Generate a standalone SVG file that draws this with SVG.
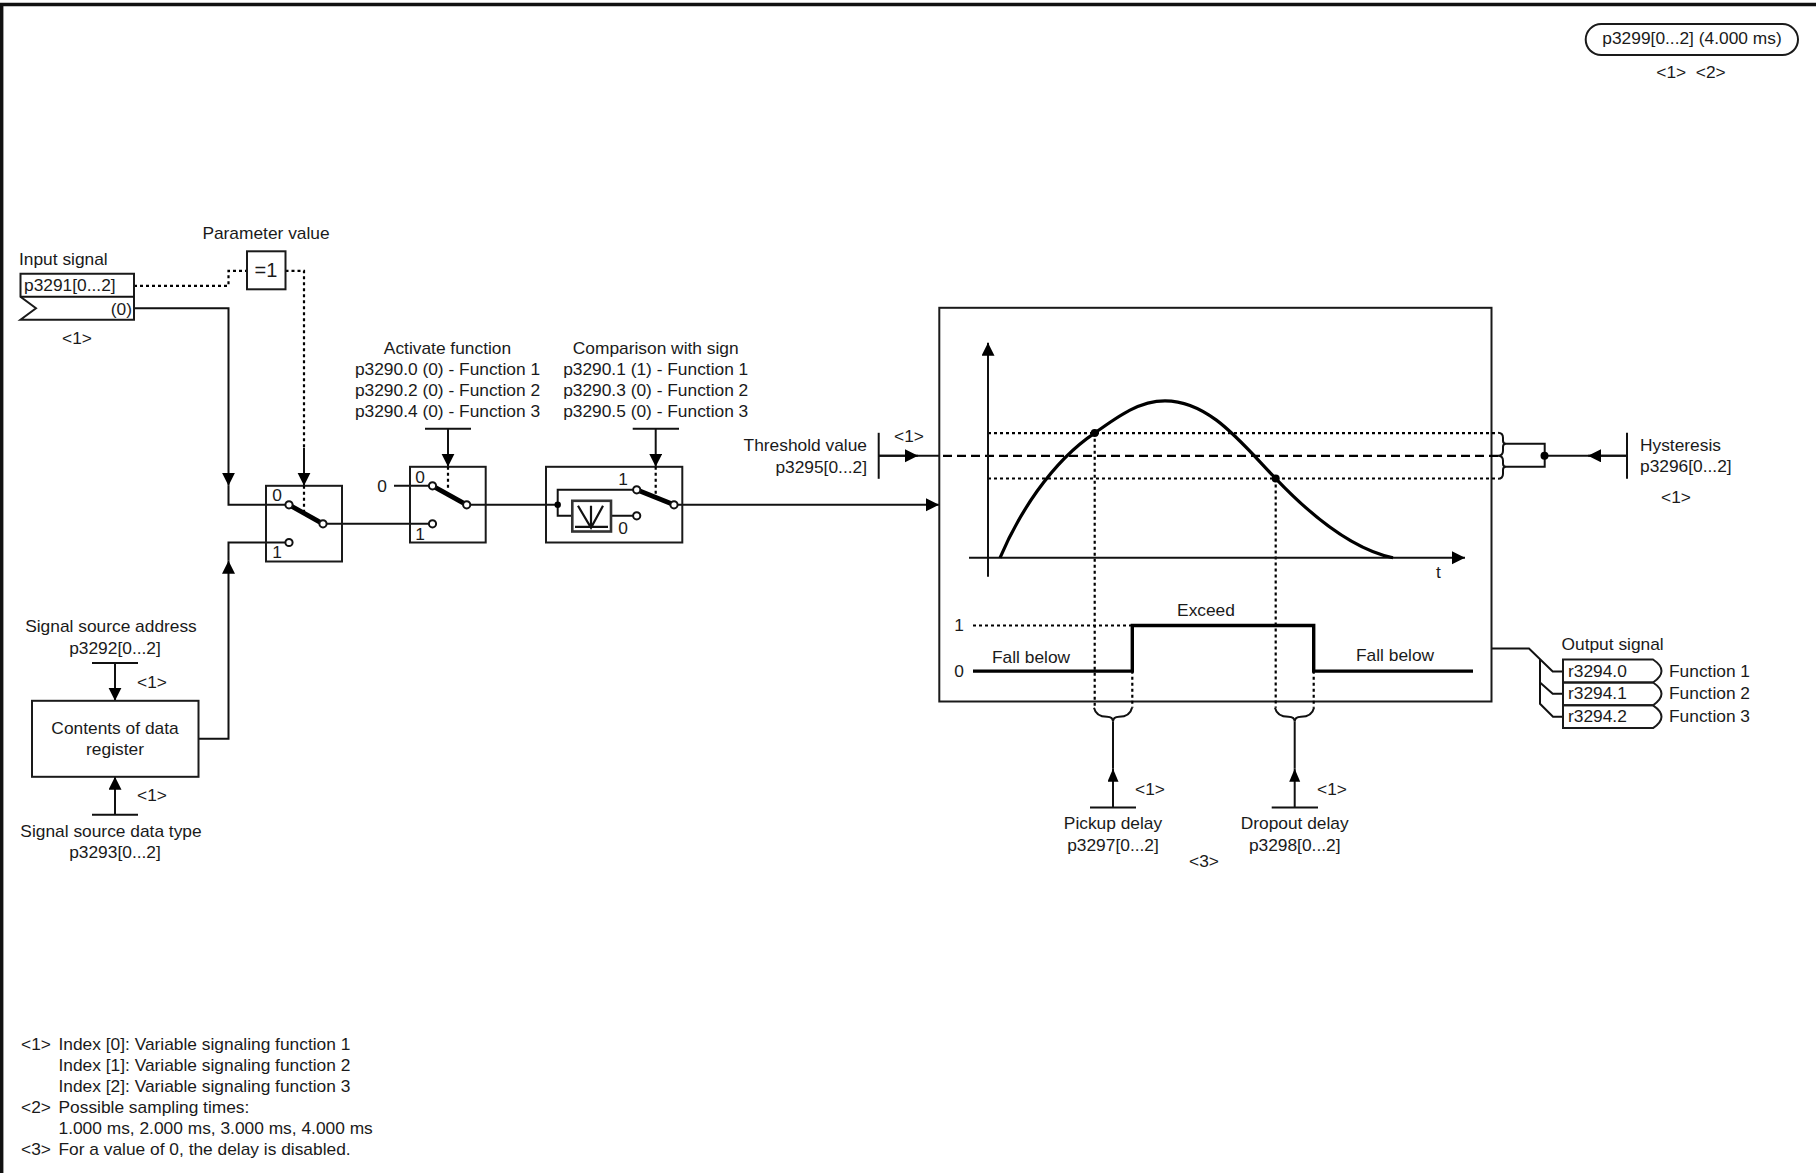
<svg xmlns="http://www.w3.org/2000/svg" width="1816" height="1173" viewBox="0 0 1816 1173">
<style>
text{font-family:"Liberation Sans",Arial,sans-serif;font-size:17.35px;fill:#1a1a1a}
.m{text-anchor:middle}.e{text-anchor:end}
.b{fill:none;stroke:#1a1a1a;stroke-width:2}
.l{fill:none;stroke:#111;stroke-width:2}
.t{fill:none;stroke:#000;stroke-width:4.8}
.dot{fill:none;stroke:#000;stroke-width:2.2;stroke-dasharray:3 3}
.dash{fill:none;stroke:#000;stroke-width:2.2;stroke-dasharray:9 5}
.c{fill:#fff;stroke:#111;stroke-width:2}
.j{fill:#000}
.a{marker-end:url(#arrow)}
.s{marker-end:url(#arrowS)}
</style>
<defs>
<marker id="arrow" markerUnits="userSpaceOnUse" markerWidth="14" markerHeight="14" refX="13" refY="6.5" orient="auto"><path d="M0 0L13 6.5L0 13z" fill="#000"/></marker>
<marker id="arrowS" markerUnits="userSpaceOnUse" markerWidth="14" markerHeight="12" refX="13" refY="5.5" orient="auto"><path d="M0 0L13 5.5L0 11z" fill="#000"/></marker>
</defs>
<rect width="1816" height="1173" fill="#fff"/>
<g transform="translate(0 0.8)">
<path id="frame" d="M1.7 1173V3.7H1816" fill="none" stroke="#111" stroke-width="3.4"/>

<g id="connectors">
<path class="dot" d="M134 285H228.5V270H247"/>
<path class="dot" d="M285.5 270H304V447"/>
<path class="l a" d="M134 307.5H228.5V485"/>
<path class="l" d="M228.5 485V504H289"/>
<path class="l a" d="M198.5 738H228.5V560"/>
<path class="l" d="M228.5 560V541.7H289"/>
<path class="l a" d="M304 447V485"/>
<path class="l" d="M323 523H432.5"/>
<path class="l" d="M394 485H432.5"/>
<path class="l" d="M467 504H558"/>
<path class="l a" d="M674 504H939"/>
<path class="l" d="M425 428H471M632.7 428H679"/>
<path class="l a" d="M448 428V466"/>
<path class="l a" d="M655.7 428V466"/>
<path class="l" d="M92 662.3H138M92 814H138"/>
<path class="l a" d="M115 662.3V700"/>
<path class="l a" d="M115 814V776"/>
<path class="l" d="M878.7 432V478"/>
<path class="l" d="M878.7 455H939"/>
<path class="l a" d="M878.7 455H918"/>
<path class="l" d="M1627 432V478M1627 455H1545"/>
<path class="l a" d="M1627 455H1588"/>
<path class="l" d="M1498 432Q1503 432 1503 437V440Q1503 443 1506 443Q1503 443 1503 446V450Q1503 455 1498 455Q1503 455 1503 460V463Q1503 466 1506 466Q1503 466 1503 469V473Q1503 478 1498 478"/>
<path class="l" d="M1506 443H1544.7V466H1506"/>
<circle class="j" cx="1544.5" cy="455" r="4"/>
<path class="l" d="M1094 707Q1096 716 1107 716Q1113 716 1113 721Q1113 716 1119 716Q1130 716 1132 707"/>
<path class="l" d="M1275 707Q1277 716 1288.5 716Q1294.7 716 1294.7 721Q1294.7 716 1301 716Q1312 716 1314 707"/>
<path class="l s" d="M1113 806.7V768"/>
<path class="l" d="M1113 768V721M1090 806.7H1136"/>
<path class="l s" d="M1294.7 806.7V768"/>
<path class="l" d="M1294.7 768V721M1271.7 806.7H1318"/>
<path class="l" d="M1491.5 647.7H1529L1552.7 670.7H1563M1540 658V703L1553 716H1563M1540 681.7L1552.7 693H1563"/>
</g>

<g id="node-period">
<rect class="b" x="1585.7" y="23.3" width="212.3" height="31" rx="15.5"/>
<text class="m" x="1692" y="43">p3299[0...2] (4.000 ms)</text>
<text class="m" x="1691" y="77" xml:space="preserve">&lt;1&gt;  &lt;2&gt;</text>
</g>

<g id="node-input">
<text x="19" y="264">Input signal</text>
<path class="b" d="M20.5 273H134V319H20.5L36 307.5L20.5 296Z"/>
<path class="l" d="M20.5 296H134"/>
<text x="24" y="290">p3291[0...2]</text>
<text class="e" x="132" y="314">(0)</text>
<text class="m" x="77" y="343">&lt;1&gt;</text>
</g>

<g id="node-param">
<text class="m" x="266" y="238">Parameter value</text>
<rect class="b" x="247" y="250.5" width="38.5" height="38"/>
<text class="m" x="266" y="276.5" style="font-size:20px">=1</text>
</g>

<g id="node-switch1">
<rect class="b" x="266" y="485" width="76" height="75.7"/>
<path class="dot" d="M304 485V513"/>
<path class="t" d="M289 504L323 523"/>
<circle class="c" cx="289" cy="504" r="3.6"/><circle class="c" cx="323" cy="523" r="3.6"/><circle class="c" cx="289" cy="541.7" r="3.6"/>
<text class="m" x="277" y="500">0</text><text class="m" x="277" y="557">1</text>
</g>

<g id="node-switch2">
<rect class="b" x="410" y="466" width="75.7" height="75.7"/>
<path class="dot" d="M448 466V490"/>
<path class="t" d="M432.5 485L466.7 504"/>
<circle class="c" cx="432.5" cy="485" r="3.6"/><circle class="c" cx="466.7" cy="504" r="3.6"/><circle class="c" cx="432.5" cy="523" r="3.6"/>
<text class="m" x="420" y="482">0</text><text class="m" x="420" y="539">1</text>
<text class="m" x="382" y="491">0</text>
</g>

<g id="node-switch3">
<rect class="b" x="546" y="466" width="136.3" height="75.7"/>
<path class="dot" d="M655.7 466V493"/>
<path class="l" d="M557.7 504V489H636.7M557.7 504V515H572.3M611 515H636.7"/>
<circle class="j" cx="557.7" cy="504" r="3.2"/>
<rect x="572.3" y="500" width="38.7" height="30.7" fill="#fff" stroke="#333" stroke-width="2.6"/>
<path d="M591 505V527M578 505L591 527L603 505M575 526H608" fill="none" stroke="#111" stroke-width="2.2"/>
<path class="t" d="M636.7 489L674 504"/>
<circle class="c" cx="636.7" cy="489" r="3.6"/><circle class="c" cx="636.7" cy="515" r="3.6"/><circle class="c" cx="674" cy="504" r="3.6"/>
<text class="m" x="623" y="484">1</text><text class="m" x="623" y="533">0</text>
</g>

<g id="node-activate">
<text class="m" x="447.5" y="353">Activate function</text>
<text class="m" x="447.5" y="374">p3290.0 (0) - Function 1</text>
<text class="m" x="447.5" y="395">p3290.2 (0) - Function 2</text>
<text class="m" x="447.5" y="416">p3290.4 (0) - Function 3</text>
</g>

<g id="node-compare">
<text class="m" x="655.7" y="353">Comparison with sign</text>
<text class="m" x="655.7" y="374">p3290.1 (1) - Function 1</text>
<text class="m" x="655.7" y="395">p3290.3 (0) - Function 2</text>
<text class="m" x="655.7" y="416">p3290.5 (0) - Function 3</text>
</g>

<g id="node-register">
<text class="m" x="111" y="631">Signal source address</text>
<text class="m" x="115" y="653">p3292[0...2]</text>
<text class="m" x="152" y="687">&lt;1&gt;</text>
<rect class="b" x="32" y="700" width="166.5" height="76"/>
<text class="m" x="115" y="733">Contents of data</text>
<text class="m" x="115" y="754">register</text>
<text class="m" x="152" y="800">&lt;1&gt;</text>
<text class="m" x="111" y="836">Signal source data type</text>
<text class="m" x="115" y="857">p3293[0...2]</text>
</g>

<g id="node-threshold">
<text class="e" x="867" y="450">Threshold value</text>
<text class="e" x="867" y="472">p3295[0...2]</text>
<text class="m" x="909" y="441">&lt;1&gt;</text>
</g>

<g id="node-hysteresis">
<text x="1640" y="450">Hysteresis</text>
<text x="1640" y="471">p3296[0...2]</text>
<text class="m" x="1676" y="502">&lt;1&gt;</text>
</g>

<g id="node-graph">
<rect class="b" x="939.3" y="307" width="552.2" height="393.7"/>
<path class="dot" d="M988 432.3H1498M988 477.7H1498M1094.7 432V707M1275.7 477.7V707M1132.3 670V707M1313.7 670V707M973 624.7H1132"/>
<path class="dash" d="M943 455H1500"/>
<path class="l a" d="M988 576V342"/>
<path class="l a" d="M969 557H1465"/>
<path d="M1000 557C1018 515 1050 462 1095 432C1120 414 1140 400 1165 400C1210 400 1242 443 1276 478C1316 520 1355 549 1393 557" fill="none" stroke="#000" stroke-width="3.2"/>
<circle class="j" cx="1094.7" cy="432.3" r="4"/><circle class="j" cx="1275.7" cy="477.7" r="4"/>
<path d="M973 670.3H1132.3V624.7H1313.7V670.3H1473" fill="none" stroke="#000" stroke-width="3.4"/>
<text x="1436" y="577">t</text>
<text class="m" x="959" y="630">1</text>
<text class="m" x="959" y="676">0</text>
<text x="992" y="662">Fall below</text>
<text class="m" x="1206" y="615">Exceed</text>
<text x="1356" y="660">Fall below</text>
</g>

<g id="node-delays">
<text class="m" x="1150" y="794">&lt;1&gt;</text>
<text class="m" x="1332" y="794">&lt;1&gt;</text>
<text class="m" x="1113" y="828">Pickup delay</text>
<text class="m" x="1113" y="850">p3297[0...2]</text>
<text class="m" x="1294.7" y="828">Dropout delay</text>
<text class="m" x="1294.7" y="850">p3298[0...2]</text>
<text class="m" x="1204" y="866">&lt;3&gt;</text>
</g>

<g id="node-output">
<text x="1561.5" y="649">Output signal</text>
<path class="b" d="M1563 658.7H1653Q1670 670 1653 681.7H1563Z"/>
<path class="b" d="M1563 681.7H1653Q1670 693 1653 704.5H1563Z"/>
<path class="b" d="M1563 704.5H1653Q1670 716 1653 727.3H1563Z"/>
<text x="1568" y="676">r3294.0</text><text x="1669" y="676">Function 1</text>
<text x="1568" y="698.5">r3294.1</text><text x="1669" y="698.5">Function 2</text>
<text x="1568" y="721.5">r3294.2</text><text x="1669" y="721.5">Function 3</text>
</g>

<g id="legend">
<text x="21" y="1049.5">&lt;1&gt;</text><text x="58.5" y="1049.5">Index [0]: Variable signaling function 1</text>
<text x="58.5" y="1070.5">Index [1]: Variable signaling function 2</text>
<text x="58.5" y="1091.5">Index [2]: Variable signaling function 3</text>
<text x="21" y="1112.5">&lt;2&gt;</text><text x="58.5" y="1112.5">Possible sampling times:</text>
<text x="58.5" y="1133.5">1.000 ms, 2.000 ms, 3.000 ms, 4.000 ms</text>
<text x="21" y="1154.5">&lt;3&gt;</text><text x="58.5" y="1154.5">For a value of 0, the delay is disabled.</text>
</g>
</g>
</svg>
